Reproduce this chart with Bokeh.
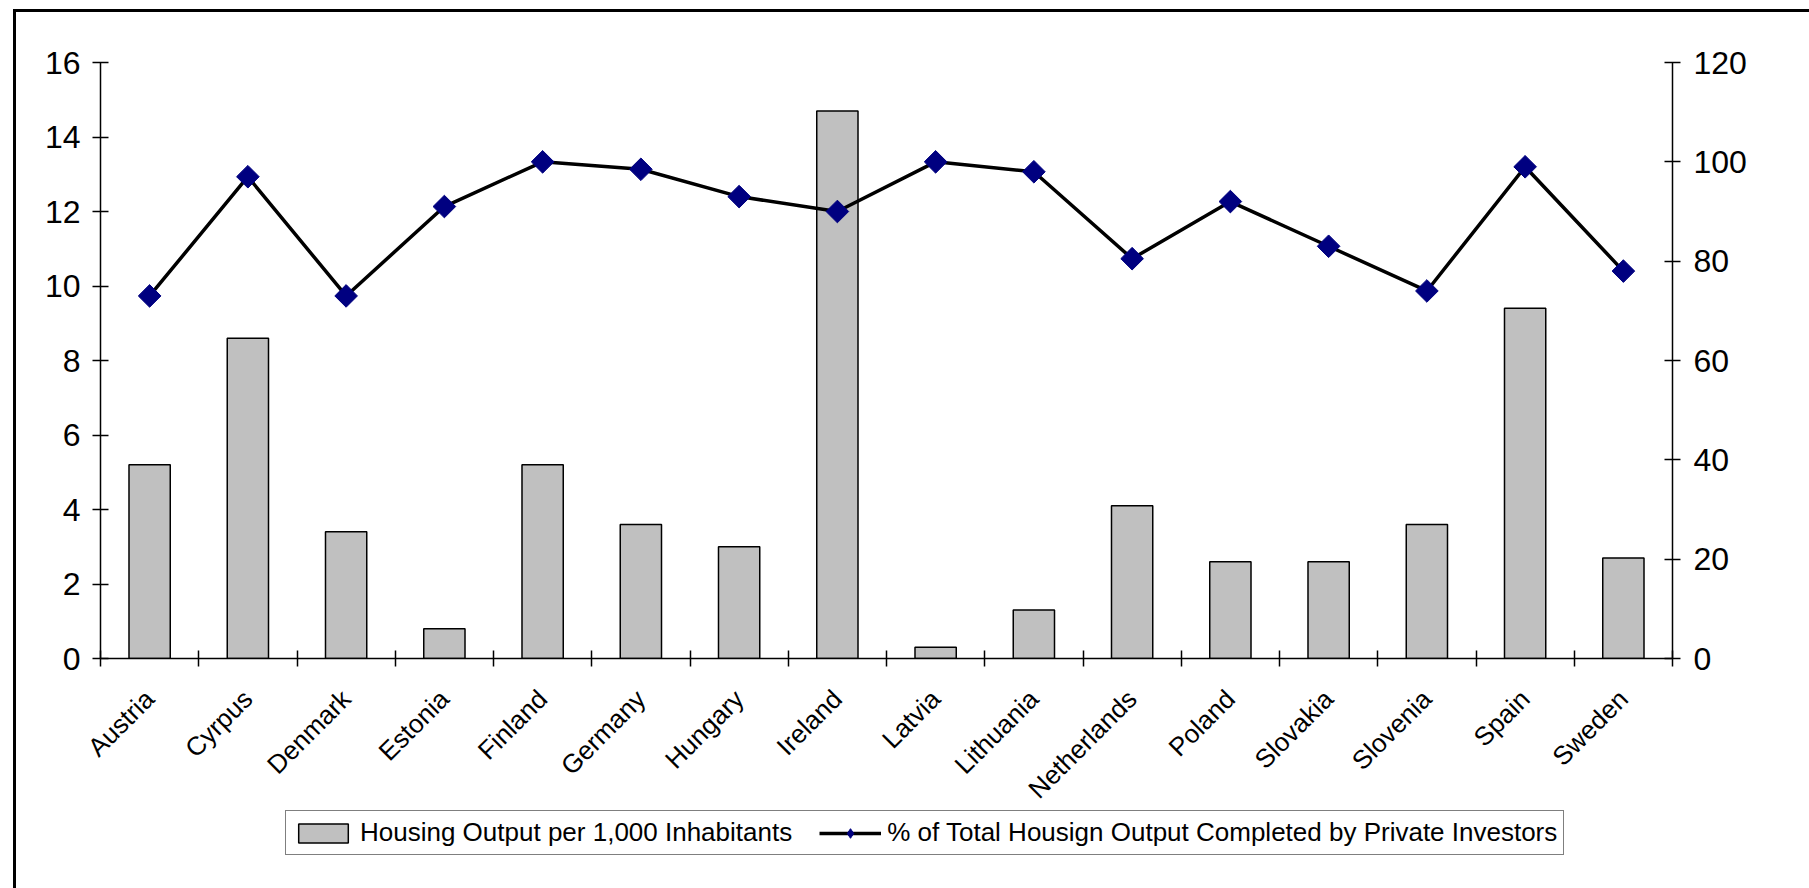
import math

from bokeh.plotting import figure
from bokeh.layouts import column
from bokeh.models import (ColumnDataSource, Range1d, LinearAxis, FixedTicker,
                          Legend, LegendItem)
from bokeh.embed import file_html
from bokeh.resources import INLINE

# --- data -------------------------------------------------------------------
countries = ["Austria", "Cyrpus", "Denmark", "Estonia", "Finland", "Germany", "Hungary", "Ireland",
             "Latvia", "Lithuania", "Netherlands", "Poland", "Slovakia", "Slovenia", "Spain", "Sweden"]
housing_per_1000 = [5.2, 8.6, 3.4, 0.8, 5.2, 3.6, 3.0, 14.7, 0.3, 1.3, 4.1, 2.6, 2.6, 3.6, 9.4, 2.7]
private_share_pct = [73, 97, 73, 91, 100, 98.5, 93, 90, 100, 98, 80.5, 92, 83, 74, 99, 78]

left_ticks = [0, 2, 4, 6, 8, 10, 12, 14, 16]
right_ticks = [0, 20, 40, 60, 80, 100, 120]

bar_label = "Housing Output per 1,000 Inhabitants"
line_label = "% of Total Housign Output Completed by Private Investors"

FONT = "Liberation Sans"
BAR_FILL = "#C0C0C0"
MARKER_FILL = "#000080"

# each country occupies one unit slot; marks sit in the middle of the slot
n = len(countries)
slot_centers = [i + 0.5 for i in range(n)]
slot_edges = list(range(n + 1))

source = ColumnDataSource(dict(x=slot_centers, country=countries,
                               housing=housing_per_1000, private=private_share_pct))

CANVAS_W = 1793
CHART_H = 811
LEGEND_H = 85
LEGEND_OVERLAP = 20

# --- main chart -------------------------------------------------------------
p = figure(width=CANVAS_W, height=CHART_H,
           x_range=Range1d(0, n),
           y_range=Range1d(left_ticks[0], left_ticks[-1]),
           x_axis_location=None,
           output_backend="svg", toolbar_location=None,
           min_border_left=84, min_border_right=137, min_border_top=50, min_border_bottom=165)
p.outline_line_color = None
p.background_fill_color = "white"
p.border_fill_color = "white"
p.grid.visible = False

p.extra_y_ranges = {"pct": Range1d(right_ticks[0], right_ticks[-1])}


def style_axis(ax):
    ax.axis_line_color = "black"
    ax.axis_line_width = 1.5
    ax.major_tick_line_color = "black"
    ax.major_tick_line_width = 1.5
    ax.major_tick_in = 8
    ax.major_tick_out = 8
    ax.minor_tick_line_color = None
    ax.major_label_text_font = FONT
    ax.major_label_text_font_size = "32px"
    ax.major_label_text_color = "black"


# left value axis
yax = p.yaxis[0]
yax.ticker = FixedTicker(ticks=left_ticks)
style_axis(yax)
yax.major_label_standoff = 12

# right percentage axis
rax = LinearAxis(y_range_name="pct", ticker=FixedTicker(ticks=right_ticks))
style_axis(rax)
rax.major_label_standoff = 13
p.add_layout(rax, "right")

# category boundary ticks along the base line
eax = LinearAxis(ticker=FixedTicker(ticks=slot_edges))
style_axis(eax)
eax.major_label_overrides = {e: "" for e in slot_edges}
eax.major_label_text_font_size = "1px"
eax.major_label_standoff = 0
p.add_layout(eax, "below")

# rotated country names under each slot
cax = LinearAxis(ticker=FixedTicker(ticks=slot_centers))
cax.axis_line_color = None
cax.major_tick_line_color = None
cax.minor_tick_line_color = None
cax.major_tick_out = 0
cax.major_tick_in = 0
cax.major_label_overrides = dict(zip(slot_centers, countries))
cax.major_label_orientation = math.pi / 4
cax.major_label_text_font = FONT
cax.major_label_text_font_size = "26px"
cax.major_label_text_color = "black"
cax.major_label_standoff = 28
p.add_layout(cax, "below")

bars = p.vbar(x="x", top="housing", width=0.42, source=source,
              fill_color=BAR_FILL, line_color="black", line_width=1.5)
line = p.line(x="x", y="private", source=source, y_range_name="pct",
              line_color="black", line_width=3.5)
pts = p.scatter(x="x", y="private", source=source, y_range_name="pct",
                marker="square", size=16, angle=math.pi / 4,
                fill_color=MARKER_FILL, line_color=MARKER_FILL)

# --- legend strip under the chart -------------------------------------------
lg = figure(width=CANVAS_W, height=LEGEND_H, x_range=Range1d(0, 1), y_range=Range1d(0, 1),
            x_axis_location=None, y_axis_location=None,
            output_backend="svg", toolbar_location=None,
            min_border=0, min_border_left=0, min_border_right=0,
            min_border_top=0, min_border_bottom=0)
lg.outline_line_color = None
lg.grid.visible = False
lg.background_fill_alpha = 0
lg.border_fill_alpha = 0
lg.styles = {"margin-top": f"-{LEGEND_OVERLAP}px"}

# legend swatches reuse the chart's glyph styles (hidden in the strip itself)
k_bar = lg.vbar(x="x", top="housing", width=0.42, source=source,
                fill_color=BAR_FILL, line_color="black", line_width=1.5, visible=False)
k_line = lg.line(x="x", y="private", source=source,
                 line_color="black", line_width=3.5, visible=False)
k_pts = lg.scatter(x="x", y="private", source=source, marker="diamond",
                   fill_color=MARKER_FILL, line_color=MARKER_FILL, visible=False)

legend = Legend(items=[LegendItem(label=bar_label, renderers=[k_bar]),
                       LegendItem(label=line_label, renderers=[k_line, k_pts])],
                orientation="horizontal", location=(185, 33))
legend.border_line_color = "black"
legend.border_line_width = 1.5
legend.background_fill_color = "white"
legend.background_fill_alpha = 1
legend.label_text_font = FONT
legend.label_text_font_size = "26px"
legend.label_text_color = "black"
legend.glyph_width = 62
legend.glyph_height = 24
legend.label_standoff = 6
legend.spacing = 27
legend.padding = 6
legend.margin = 0
lg.add_layout(legend)

# the whole chart sits in a box whose top and left edges are drawn
page = column(p, lg, spacing=0)
page.styles = {"margin-left": "13px", "margin-top": "9px",
               "border-left": "3px solid black", "border-top": "3px solid black"}

open("out.html", "w").write(file_html(page, INLINE))
